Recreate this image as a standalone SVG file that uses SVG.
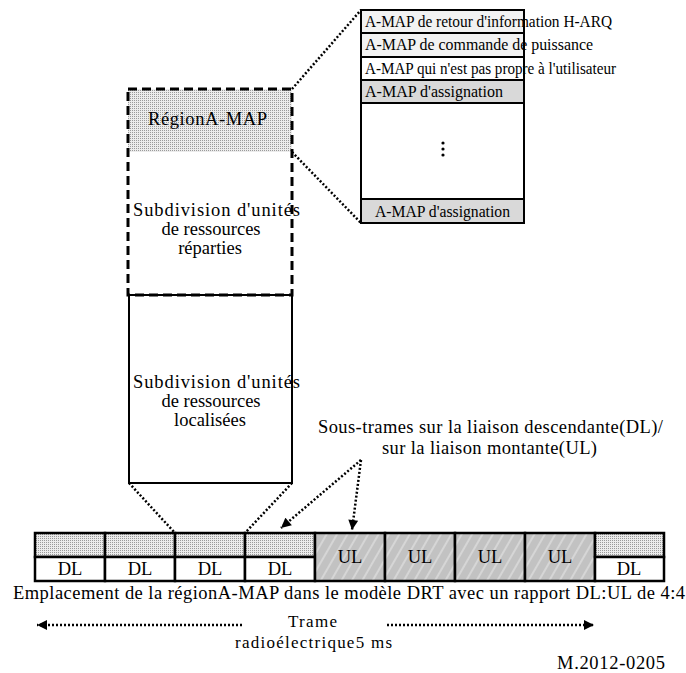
<svg xmlns="http://www.w3.org/2000/svg" width="686" height="673" viewBox="0 0 686 673">
<defs>
<style>
.t{font-family:"Liberation Serif","Times New Roman",serif;fill:#000;font-size:18.5px}
.s{font-size:16px}
.c{font-size:17px}
.m{text-anchor:middle}
.box{stroke:#000;stroke-width:2;fill:none}
.dot{stroke:#000;stroke-width:2.5;stroke-dasharray:2 2;fill:none}
.cell{stroke:#000;stroke-width:2.5}
</style>
<pattern id="stip" patternUnits="userSpaceOnUse" width="2" height="2">
<rect width="2" height="2" fill="#ececec"/>
<rect width="1" height="1" fill="#9a9a9a"/>
</pattern>
<pattern id="hatch" patternUnits="userSpaceOnUse" width="9" height="9" patternTransform="rotate(30)">
<rect width="9" height="9" fill="#c2c2c2"/>
<line x1="1" y1="0" x2="1" y2="9" stroke="#ebebeb" stroke-width="1"/>
</pattern>
<marker id="ah" viewBox="0 0 10 10" refX="10" refY="5" markerWidth="11" markerHeight="10" markerUnits="userSpaceOnUse" orient="auto">
<path d="M0,0 L10,5 L0,10 z" fill="#000"/>
</marker>
</defs>
<rect width="686" height="673" fill="#fff"/>

<g id="amap-list">
<rect x="361" y="10" width="163" height="23" fill="#f2f2f2"/>
<rect x="361" y="33" width="163" height="24" fill="#f2f2f2"/>
<rect x="361" y="57" width="163" height="23" fill="#fff"/>
<rect x="361" y="80" width="163" height="23" fill="#d9d9d9"/>
<rect x="361" y="103" width="163" height="96" fill="#fff"/>
<rect x="361" y="199" width="163" height="24" fill="#d9d9d9"/>
<rect x="361" y="10" width="163" height="213" class="box"/>
<line x1="361" y1="33" x2="524" y2="33" class="box"/>
<line x1="361" y1="57" x2="524" y2="57" class="box"/>
<line x1="361" y1="80" x2="524" y2="80" class="box"/>
<line x1="361" y1="103" x2="524" y2="103" class="box"/>
<line x1="361" y1="199" x2="524" y2="199" class="box"/>
<text class="t s" x="365" y="27" textLength="247" lengthAdjust="spacingAndGlyphs">A-MAP de retour d'information H-ARQ</text>
<text class="t s" x="365" y="50" textLength="228" lengthAdjust="spacingAndGlyphs">A-MAP de commande de puissance</text>
<text class="t s" x="365" y="74" textLength="251" lengthAdjust="spacingAndGlyphs">A-MAP qui n'est pas propre à l'utilisateur</text>
<text class="t s" x="365" y="97" textLength="138" lengthAdjust="spacingAndGlyphs">A-MAP d'assignation</text>
<circle cx="443" cy="143" r="1.6"/>
<circle cx="443" cy="149" r="1.6"/>
<circle cx="443" cy="155" r="1.6"/>
<text class="t s" x="375" y="217" textLength="135" lengthAdjust="spacingAndGlyphs">A-MAP d'assignation</text>
</g>

<g id="distributed">
<rect x="128" y="89" width="164" height="63" fill="url(#stip)"/>
<rect x="128" y="89" width="164" height="206" fill="none" stroke="#000" stroke-width="3" stroke-dasharray="9 5"/>
<text class="t" x="148" y="125" textLength="119">RégionA-MAP</text>
<text class="t" x="133" y="216" textLength="167">Subdivision d'unités</text>
<text class="t m" x="211" y="235">de ressources</text>
<text class="t m" x="210" y="254">réparties</text>
</g>

<g id="localized">
<rect x="129" y="295" width="163" height="188" class="box"/>
<text class="t" x="133" y="388" textLength="167">Subdivision d'unités</text>
<text class="t m" x="211" y="407">de ressources</text>
<text class="t m" x="210" y="426">localisées</text>
</g>

<g id="frame">
<g id="sf1"><rect x="35" y="533" width="70" height="24" fill="url(#stip)" class="cell"/><rect x="35" y="557" width="70" height="24" fill="#fff" class="cell"/><text class="t m" x="70" y="575">DL</text></g>
<g id="sf2"><rect x="105" y="533" width="70" height="24" fill="url(#stip)" class="cell"/><rect x="105" y="557" width="70" height="24" fill="#fff" class="cell"/><text class="t m" x="140" y="575">DL</text></g>
<g id="sf3"><rect x="175" y="533" width="70" height="24" fill="url(#stip)" class="cell"/><rect x="175" y="557" width="70" height="24" fill="#fff" class="cell"/><text class="t m" x="210" y="575">DL</text></g>
<g id="sf4"><rect x="245" y="533" width="70" height="24" fill="url(#stip)" class="cell"/><rect x="245" y="557" width="70" height="24" fill="#fff" class="cell"/><text class="t m" x="280" y="575">DL</text></g>
<g id="sf5"><rect x="315" y="533" width="70" height="48" fill="url(#hatch)" class="cell"/><text class="t m" x="350" y="563">UL</text></g>
<g id="sf6"><rect x="385" y="533" width="70" height="48" fill="url(#hatch)" class="cell"/><text class="t m" x="420" y="563">UL</text></g>
<g id="sf7"><rect x="455" y="533" width="70" height="48" fill="url(#hatch)" class="cell"/><text class="t m" x="490" y="563">UL</text></g>
<g id="sf8"><rect x="525" y="533" width="70" height="48" fill="url(#hatch)" class="cell"/><text class="t m" x="560" y="563">UL</text></g>
<g id="sf9"><rect x="595" y="533" width="69" height="24" fill="url(#stip)" class="cell"/><rect x="595" y="557" width="69" height="24" fill="#fff" class="cell"/><text class="t m" x="629" y="575">DL</text></g>
</g>

<g id="subframe-label">
<text class="t" x="318" y="433" textLength="345">Sous-trames sur la liaison descendante(DL)/</text>
<text class="t" x="382" y="454" textLength="215">sur la liaison montante(UL)</text>
</g>

<g id="captions">
<text class="t" x="13" y="599" textLength="672">Emplacement de la régionA-MAP dans le modèle DRT avec un rapport DL:UL de 4:4</text>
<text class="t c" x="288" y="627" textLength="49">Trame</text>
<text class="t c" x="235" y="648" textLength="157">radioélectrique5 ms</text>
<text class="t" x="557" y="669" textLength="108">M.2012-0205</text>
</g>

<g id="connectors">
<line x1="292" y1="89" x2="361" y2="10" class="dot"/>
<line x1="292" y1="152" x2="361" y2="223" class="dot"/>
<line x1="129" y1="483" x2="175" y2="533" class="dot"/>
<line x1="292" y1="483" x2="245" y2="533" class="dot"/>
<line x1="361" y1="460" x2="281" y2="528" class="dot" marker-end="url(#ah)"/>
<line x1="361" y1="460" x2="352" y2="530" class="dot" marker-end="url(#ah)"/>
<line x1="242" y1="625" x2="37" y2="625" class="dot" marker-end="url(#ah)"/>
<line x1="387" y1="625" x2="594" y2="625" class="dot" marker-end="url(#ah)"/>
</g>
</svg>
